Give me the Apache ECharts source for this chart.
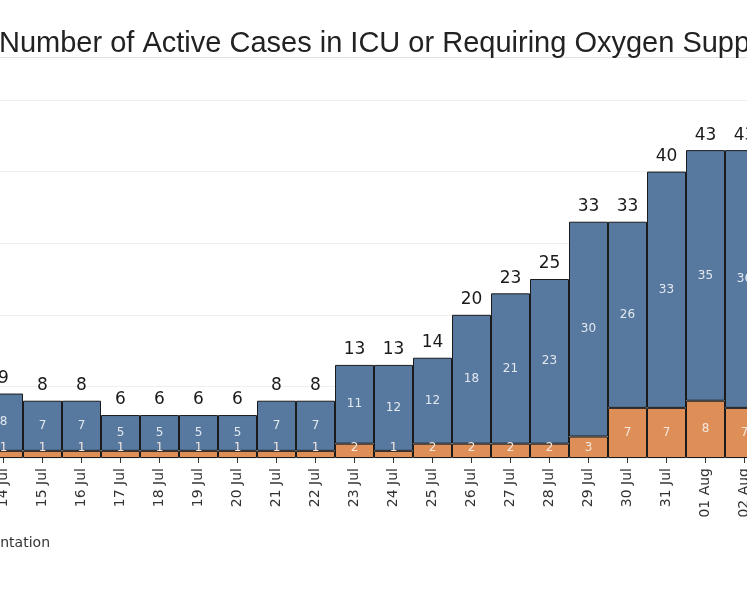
<!DOCTYPE html>
<html>
<head>
<meta charset="utf-8">
<script src="https://cdn.jsdelivr.net/npm/echarts@6/dist/echarts.min.js"></script>
<style>
html,body{margin:0;padding:0;background:#fff;overflow:hidden;width:747px;height:598px;}
#chart{width:780px;height:598px;margin-left:-16px;}
</style>
</head>
<body>
<div id="chart"></div>
<script>
const categories = ['14 Jul','15 Jul','16 Jul','17 Jul','18 Jul','19 Jul','20 Jul','21 Jul','22 Jul','23 Jul','24 Jul','25 Jul','26 Jul','27 Jul','28 Jul','29 Jul','30 Jul','31 Jul','01 Aug','02 Aug'];
const icuOrOxygen = [1,1,1,1,1,1,1,1,1,2,1,2,2,2,2,3,7,7,8,7];
const otherActive = [8,7,7,5,5,5,5,7,7,11,12,12,18,21,23,30,26,33,35,36];
const totals = [9,8,8,6,6,6,6,8,8,13,13,14,20,23,25,33,33,40,43,43];
const yTicks = { min: 0, max: 50, interval: 10 };

const BLUE = '#58799f';
const ORANGE = '#de8f58';
const labelFont = 'DejaVu Sans';

const chart = echarts.init(document.getElementById('chart'));
chart.setOption({
  animation: false,
  backgroundColor: '#fff',
  title: {
    text: 'Number of Active Cases in ICU or Requiring Oxygen Supplementation',
    left: 10, top: 24,
    textStyle: { fontFamily: 'Liberation Sans', fontSize: 29, fontWeight: 'normal', color: '#222' }
  },
  graphic: [
    { type: 'line', shape: { x1: 0, y1: 57.5, x2: 780, y2: 57.5 }, style: { stroke: '#e2e2e2', lineWidth: 1 } },
    { type: 'text', x: 66, y: 543, style: { text: 'Requiring Oxygen Supplementation', align: 'right', verticalAlign: 'middle', font: '14px "DejaVu Sans"', fill: '#333' } }
  ],
  grid: { left: 0, right: 0, top: 100, bottom: 140 },
  xAxis: {
    type: 'category',
    data: categories,
    boundaryGap: true,
    axisLine: { show: false },
    axisTick: { show: true, alignWithLabel: true, length: 5, lineStyle: { color: '#333' } },
    axisLabel: { rotate: 90, fontFamily: labelFont, fontSize: 14, color: '#333', margin: 10 }
  },
  yAxis: {
    type: 'value',
    min: yTicks.min, max: yTicks.max, interval: yTicks.interval,
    axisLine: { show: false }, axisTick: { show: false }, axisLabel: { show: false },
    splitLine: { lineStyle: { color: '#efefef' } }
  },
  series: [
    {
      name: 'Requiring Oxygen Supplementation',
      type: 'bar', stack: 'total', barCategoryGap: 0,
      data: icuOrOxygen.map(v => v <= 3
        ? { value: v, label: { position: 'insideBottom', distance: 4 } }
        : { value: v }),
      itemStyle: { color: ORANGE, borderColor: '#1b1b1b', borderWidth: 1 },
      label: { show: true, position: 'inside', fontFamily: labelFont, fontSize: 12, color: '#f3e6dc' }
    },
    {
      name: 'Other',
      type: 'bar', stack: 'total', barCategoryGap: 0,
      data: otherActive,
      itemStyle: { color: BLUE, borderColor: '#1b1b1b', borderWidth: 1 },
      label: { show: true, position: 'inside', fontFamily: labelFont, fontSize: 12, color: '#e3e8ef' }
    },
    {
      name: 'Total',
      type: 'line',
      data: totals,
      symbol: 'circle', symbolSize: 1,
      showSymbol: true,
      lineStyle: { width: 0, color: 'rgba(0,0,0,0)' },
      itemStyle: { color: 'rgba(0,0,0,0)' },
      label: { show: true, position: 'top', distance: 6, fontFamily: labelFont, fontSize: 17, color: '#1a1a1a' },
      z: 5
    }
  ]
});
</script>
</body>
</html>
